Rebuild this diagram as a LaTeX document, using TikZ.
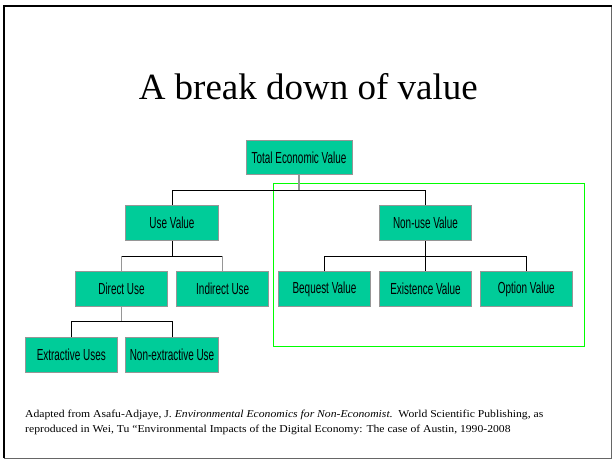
\documentclass[tikz,border=0pt]{standalone}
\usepackage{fontspec}
\usepackage{tikz}
\setmainfont{Liberation Serif}
\newfontfamily\boxfont[FakeStretch=0.62]{Liberation Sans}
\newfontfamily\citefont[FakeStretch=1.1]{Liberation Serif}
\definecolor{boxcol}{RGB}{0,204,153}
\definecolor{edgecol}{RGB}{150,150,150}
\definecolor{gcol}{RGB}{0,255,0}
\tikzset{valbox/.style={rectangle,draw=edgecol,fill=boxcol,line width=1pt,minimum width=92.5,minimum height=34.5,inner sep=0pt,font=\boxfont\fontsize{16}{18}\selectfont}}
\tikzset{link/.style={black,line width=0.8pt}}
\tikzset{stem/.style={edgecol,line width=1.2pt}}

\begin{document}
\begin{tikzpicture}[x=1pt,y=-1pt]
\useasboundingbox (0,0) rectangle (613,461);
\draw [black!60,line width=0.8pt] (611.5,5.5) -- (611.5,458) -- (3.5,458);
\draw [black,line width=2pt] (3.5,458) -- (3.5,5.5) -- (611.5,5.5);

\node [anchor=base,font=\fontsize{37}{44}\selectfont] (title) at (308.3,99) {A break down of value};

\draw [gcol,line width=1pt] (273.3,183.3) rectangle (584.3,346);

\node [valbox,minimum width=106] (tev) at (299,157.5) {Total Economic Value};

\node [valbox] (use) at (172,223) {Use Value};
\node [valbox] (nonuse) at (425.5,223) {Non-use Value};

\node [valbox] (direct) at (121.5,289) {Direct Use};
\node [valbox] (indirect) at (222.7,289) {Indirect Use};
\node [valbox] (bequest) at (324.5,289) {Bequest Value};
\node [valbox] (exist) at (425.5,289) {Existence Value};
\node [valbox] (option) at (526.3,289) {Option Value};

\node [valbox] (extract) at (71.3,355) {Extractive Uses};
\node [valbox] (nonextract) at (172,355) {Non-extractive Use};

\coordinate (j1) at (299,190);
\coordinate (j2) at (172,256);
\coordinate (j3) at (425.5,256);
\coordinate (j4) at (121.5,321.7);

\draw [stem] (tev) -- (j1);
\draw [link] (use.north) |- (j1);
\draw [link] (nonuse.north) |- (j1);

\draw [link] (use) -- (j2);
\draw [link] (direct.north |- j2) -- (indirect.north |- j2);
\draw [stem] (direct) -- (direct.north |- j2);
\draw [stem] (indirect) -- (indirect.north |- j2);

\draw [link] (nonuse) -- (exist);
\draw [link] (bequest.north) |- (j3);
\draw [link] (option.north) |- (j3);

\draw [stem] (direct) -- (j4);
\draw [link] (extract.north) |- (j4);
\draw [link] (nonextract.north) |- (j4);

\node [anchor=base west,align=left,font=\citefont\fontsize{10.6}{14.5}\selectfont] (cite) at (21.7,432) {Adapted from Asafu-Adjaye, J. \textit{Environmental Economics for Non-Economist.}\ \ World Scientific Publishing, as\\reproduced in Wei, Tu “Environmental Impacts of the Digital Economy: The case of Austin, 1990-2008};
\end{tikzpicture}
\end{document}
